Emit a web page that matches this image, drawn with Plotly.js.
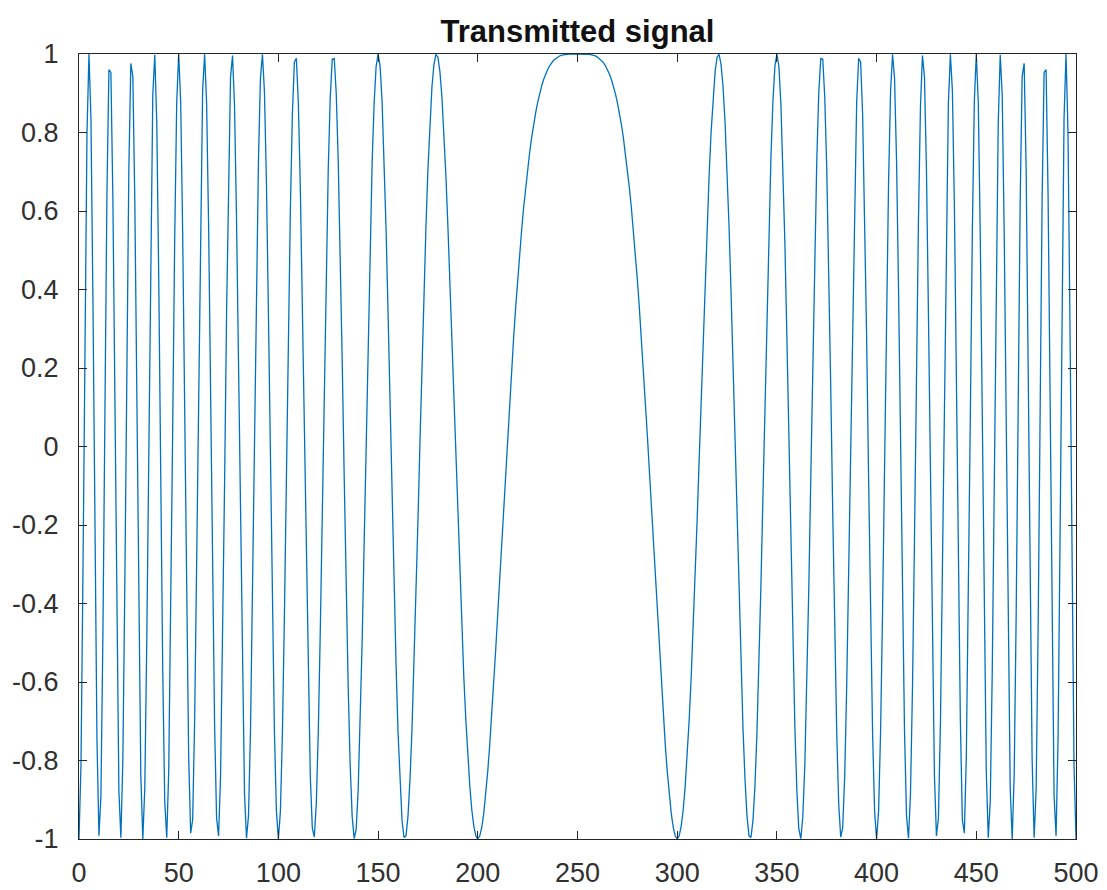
<!DOCTYPE html>
<html>
<head>
<meta charset="utf-8">
<script src="https://cdn.plot.ly/plotly-3.0.1.min.js"></script>
<style>html,body{margin:0;padding:0;background:#fff;}#chart{width:1107px;height:890px;}</style>
</head>
<body>
<div id="chart"></div>
<script>
// Sample index of the first value and spacing between samples
var sampleStart = 0;
var sampleStep = 1;

// Transmitted signal, samples 0..250
var signalFirstHalf = [
-1.000,-0.810,-0.314,0.298,0.797,1.000,0.835,0.367,-0.232,-0.745,
-0.992,-0.889,-0.475,0.102,0.641,0.960,0.953,0.627,0.093,-0.470,
-0.876,-0.997,-0.797,-0.343,0.217,0.707,0.976,0.943,0.622,0.114,
-0.426,-0.837,-1.000,-0.870,-0.488,0.031,0.540,0.894,0.998,0.824,
0.426,-0.087,-0.574,-0.905,-0.997,-0.827,-0.444,0.052,0.532,0.876,
1.000,0.877,0.540,0.074,-0.408,-0.790,-0.985,-0.951,-0.697,-0.286,
0.187,0.617,0.908,0.999,0.874,0.562,0.133,-0.322,-0.708,-0.947,
-0.992,-0.838,-0.519,-0.099,0.338,0.707,0.941,0.996,0.867,0.579,
0.187,-0.235,-0.614,-0.883,-0.998,-0.941,-0.726,-0.390,0.008,0.402,
0.729,0.938,0.999,0.904,0.672,0.339,-0.043,-0.416,-0.726,-0.929,
-1.000,-0.930,-0.733,-0.436,-0.083,0.279,0.602,0.845,0.979,0.989,
0.876,0.658,0.361,0.024,-0.314,-0.613,-0.840,-0.972,-0.995,-0.911,
-0.729,-0.472,-0.168,0.152,0.453,0.707,0.890,0.987,0.989,0.900,
0.729,0.494,0.217,-0.077,-0.361,-0.613,-0.812,-0.943,-0.999,-0.975,
-0.876,-0.712,-0.497,-0.248,0.018,0.279,0.519,0.721,0.874,0.968,
1.000,0.969,0.879,0.736,0.553,0.339,0.108,-0.127,-0.352,-0.556,
-0.729,-0.863,-0.953,-0.996,-0.992,-0.941,-0.848,-0.719,-0.561,-0.381,
-0.187,0.011,0.207,0.393,0.561,0.707,0.826,0.916,0.973,0.999,
0.992,0.955,0.891,0.801,0.690,0.562,0.421,0.272,0.118,-0.036,
-0.187,-0.332,-0.466,-0.589,-0.697,-0.790,-0.866,-0.926,-0.967,-0.992,
-1.000,-0.992,-0.970,-0.934,-0.886,-0.827,-0.759,-0.684,-0.602,-0.516,
-0.426,-0.334,-0.241,-0.149,-0.058,0.031,0.118,0.201,0.280,0.355,
0.426,0.492,0.553,0.609,0.660,0.707,0.749,0.787,0.821,0.850,
0.876,0.899,0.918,0.935,0.949,0.960,0.970,0.978,0.984,0.988,
0.992,0.995,0.997,0.998,0.999,1.000,1.000,1.000,1.000,1.000,
1.000
];

// Transmitted signal, samples 251..500
var signalSecondHalf = [
1.000,1.000,1.000,1.000,1.000,0.999,0.998,0.997,0.995,0.992,
0.988,0.984,0.978,0.970,0.960,0.949,0.935,0.918,0.899,0.876,
0.850,0.821,0.787,0.749,0.707,0.660,0.609,0.553,0.492,0.426,
0.355,0.280,0.201,0.118,0.031,-0.058,-0.149,-0.241,-0.334,-0.426,
-0.516,-0.602,-0.684,-0.759,-0.827,-0.886,-0.934,-0.970,-0.992,-1.000,
-0.992,-0.967,-0.926,-0.866,-0.790,-0.697,-0.589,-0.466,-0.332,-0.187,
-0.036,0.118,0.272,0.421,0.562,0.690,0.801,0.891,0.955,0.992,
0.999,0.973,0.916,0.826,0.707,0.561,0.393,0.207,0.011,-0.187,
-0.381,-0.561,-0.719,-0.848,-0.941,-0.992,-0.996,-0.953,-0.863,-0.729,
-0.556,-0.352,-0.127,0.108,0.339,0.553,0.736,0.879,0.969,1.000,
0.968,0.874,0.721,0.519,0.279,0.018,-0.248,-0.497,-0.712,-0.876,
-0.975,-0.999,-0.943,-0.812,-0.613,-0.361,-0.077,0.217,0.494,0.729,
0.900,0.989,0.987,0.890,0.707,0.453,0.152,-0.168,-0.472,-0.729,
-0.911,-0.995,-0.972,-0.840,-0.613,-0.314,0.024,0.361,0.658,0.876,
0.989,0.979,0.845,0.602,0.279,-0.083,-0.436,-0.733,-0.930,-1.000,
-0.929,-0.726,-0.416,-0.043,0.339,0.672,0.904,0.999,0.938,0.729,
0.402,0.008,-0.390,-0.726,-0.941,-0.998,-0.883,-0.614,-0.235,0.187,
0.579,0.867,0.996,0.941,0.707,0.338,-0.099,-0.519,-0.838,-0.992,
-0.947,-0.708,-0.322,0.133,0.562,0.874,0.999,0.908,0.617,0.187,
-0.286,-0.697,-0.951,-0.985,-0.790,-0.408,0.074,0.540,0.877,1.000,
0.876,0.532,0.052,-0.444,-0.827,-0.997,-0.905,-0.574,-0.087,0.426,
0.824,0.998,0.894,0.540,0.031,-0.488,-0.870,-1.000,-0.837,-0.426,
0.114,0.622,0.943,0.976,0.707,0.217,-0.343,-0.797,-0.997,-0.876,
-0.470,0.093,0.627,0.953,0.960,0.641,0.102,-0.475,-0.889,-0.992,
-0.745,-0.232,0.367,0.835,1.000,0.797,0.298,-0.314,-0.810,-1.000
];

var xTickValues = [0,50,100,150,200,250,300,350,400,450,500];
var xTickLabels = ["0","50","100","150","200","250","300","350","400","450","500"];
var yTickValues = [-1,-0.8,-0.6,-0.4,-0.2,0,0.2,0.4,0.6,0.8,1];
var yTickLabels = ["-1","-0.8","-0.6","-0.4","-0.2","0","0.2","0.4","0.6","0.8","1"];
var chartTitle = "Transmitted signal";

var signal = signalFirstHalf.concat(signalSecondHalf);
var sampleX = signal.map(function(_, i){ return sampleStart + i * sampleStep; });

var axisColor = "#262626";
var tickFont = {family: "Liberation Sans, Arial, sans-serif", size: 27, color: "#303030"};

var trace = {
  x: sampleX,
  y: signal,
  type: "scatter",
  mode: "lines",
  line: {color: "#0072BD", width: 1.3},
  hoverinfo: "skip"
};

var layout = {
  width: 1107,
  height: 890,
  margin: {l: 79, r: 31, t: 54, b: 51, pad: 0},
  paper_bgcolor: "#ffffff",
  plot_bgcolor: "#ffffff",
  showlegend: false,
  title: {
    text: "<b>" + chartTitle + "</b>",
    font: {family: "Liberation Sans, Arial, sans-serif", size: 31, color: "#111111"},
    x: 0.5, xref: "paper", xanchor: "center",
    y: 1, yref: "paper", yanchor: "bottom", pad: {b: 12}
  },
  xaxis: {
    range: [0, 500],
    tickmode: "array",
    tickvals: xTickValues,
    ticktext: xTickLabels,
    ticks: "inside",
    ticklen: 8,
    tickwidth: 1,
    tickcolor: axisColor,
    showline: true,
    linecolor: axisColor,
    linewidth: 1,
    mirror: "allticks",
    showgrid: false,
    zeroline: false,
    tickfont: tickFont,
    ticklabelstandoff: 10,
    automargin: false
  },
  yaxis: {
    range: [-1, 1],
    tickmode: "array",
    tickvals: yTickValues,
    ticktext: yTickLabels,
    ticks: "inside",
    ticklen: 8,
    tickwidth: 1,
    tickcolor: axisColor,
    showline: true,
    linecolor: axisColor,
    linewidth: 1,
    mirror: "allticks",
    showgrid: false,
    zeroline: false,
    tickfont: tickFont,
    ticklabelstandoff: 14,
    automargin: false
  }
};

Plotly.newPlot("chart", [trace], layout, {staticPlot: true, displayModeBar: false});
</script>
</body>
</html>
